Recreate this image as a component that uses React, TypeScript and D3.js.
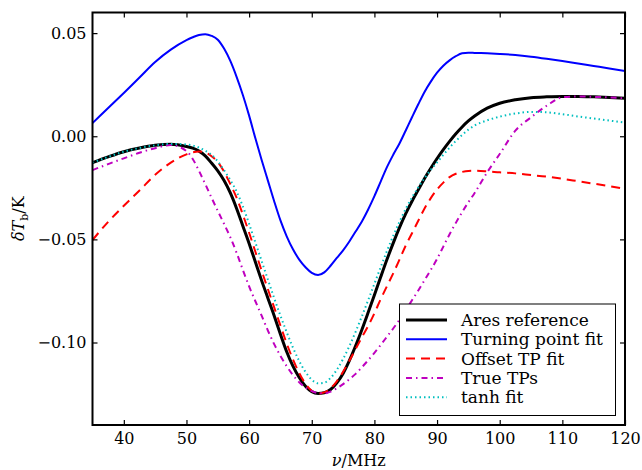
import React, { useEffect, useRef } from "react";
import * as d3 from "d3";

// frequency grid (MHz)
const freq = [
  35, 37.5, 40, 42.5, 45, 47.5, 50, 51, 52, 53, 54, 55, 56, 57, 58, 59, 60, 61,
  62, 63, 64, 65, 66, 67, 68, 69, 70, 71, 72, 73, 74, 75, 76, 77, 78, 79, 80,
  81, 82, 83, 84, 85, 86, 87, 88, 89, 90, 91, 92, 93, 94, 95, 96, 98, 100,
  102.5, 105, 107.5, 110, 112.5, 115, 117.5, 120,
];

const aresReference = [
  -0.0128, -0.01, -0.0075, -0.0057, -0.0044, -0.0039, -0.005, -0.0058, -0.0072,
  -0.0095, -0.013, -0.0168, -0.0215, -0.0275, -0.035, -0.0435, -0.052, -0.061,
  -0.07, -0.0785, -0.087, -0.096, -0.1045, -0.1115, -0.117, -0.1212, -0.1238,
  -0.1247, -0.1244, -0.1228, -0.1196, -0.115, -0.1088, -0.1016, -0.0938,
  -0.0855, -0.077, -0.0683, -0.0598, -0.0518, -0.0443, -0.0375, -0.0315,
  -0.026, -0.0205, -0.0155, -0.0108, -0.0065, -0.0025, 0.0012, 0.0045, 0.0074,
  0.0098, 0.0136, 0.016, 0.0177, 0.0187, 0.0191, 0.0193, 0.0193, 0.0191,
  0.0188, 0.0184,
];

const turningPointFit = [
  0.0064, 0.0137, 0.021, 0.0285, 0.036, 0.042, 0.0466, 0.048, 0.0491, 0.0495,
  0.0487, 0.0468, 0.0425, 0.0365, 0.0288, 0.02, 0.01, -0.001, -0.0115, -0.0215,
  -0.0315, -0.0408, -0.0485, -0.0548, -0.0598, -0.0635, -0.0662, -0.0673,
  -0.066, -0.0628, -0.059, -0.0553, -0.051, -0.0462, -0.0413, -0.0355, -0.029,
  -0.022, -0.015, -0.009, -0.0035, 0.0028, 0.0092, 0.0155, 0.0215, 0.0265,
  0.0308, 0.0342, 0.0368, 0.0388, 0.0402, 0.0405, 0.0404, 0.0402, 0.0399,
  0.0394, 0.0386, 0.0376, 0.0365, 0.0353, 0.0341, 0.0329, 0.0316,
];

const offsetTPFit = [
  -0.0503, -0.0415, -0.0337, -0.0263, -0.0187, -0.0128, -0.0088, -0.0078,
  -0.0074, -0.0079, -0.0097, -0.0125, -0.0172, -0.0232, -0.0298, -0.038,
  -0.0468, -0.056, -0.0652, -0.0742, -0.083, -0.0918, -0.1005, -0.1082,
  -0.1148, -0.12, -0.1234, -0.1247, -0.1242, -0.1222, -0.1188, -0.1142,
  -0.1088, -0.1032, -0.0975, -0.092, -0.0858, -0.079, -0.0727, -0.0665,
  -0.0598, -0.053, -0.047, -0.041, -0.035, -0.03, -0.0258, -0.0225, -0.0198,
  -0.0182, -0.0173, -0.0168, -0.0167, -0.017, -0.0175, -0.018, -0.0188,
  -0.0196, -0.0206, -0.0218, -0.023, -0.0242, -0.0255,
];

const trueTPs = [
  -0.0164, -0.0135, -0.0107, -0.008, -0.0058, -0.0042, -0.0072, -0.011,
  -0.0168, -0.0232, -0.0298, -0.0362, -0.0425, -0.049, -0.0565, -0.0648,
  -0.0728, -0.08, -0.087, -0.0942, -0.1008, -0.1065, -0.1115, -0.1158,
  -0.1193, -0.1218, -0.1236, -0.1245, -0.1247, -0.1238, -0.1222, -0.1202,
  -0.1178, -0.1152, -0.112, -0.1086, -0.105, -0.1012, -0.0972, -0.0932,
  -0.089, -0.0843, -0.0795, -0.0748, -0.0698, -0.0648, -0.0595, -0.0535,
  -0.0475, -0.042, -0.0368, -0.032, -0.0275, -0.0175, -0.0086, 0.0027, 0.0092,
  0.0148, 0.0189, 0.0193, 0.0191, 0.0188, 0.0184,
];

const tanhFit = [
  -0.0128, -0.01, -0.0075, -0.0057, -0.0044, -0.0037, -0.004, -0.0045, -0.0055,
  -0.007, -0.009, -0.0122, -0.0165, -0.0212, -0.0268, -0.034, -0.0425, -0.0515,
  -0.0605, -0.0695, -0.0785, -0.087, -0.095, -0.1025, -0.109, -0.1143, -0.118,
  -0.1198, -0.1195, -0.1172, -0.1132, -0.108, -0.1018, -0.0948, -0.0873,
  -0.0795, -0.0715, -0.0635, -0.0557, -0.0483, -0.0415, -0.0352, -0.0297,
  -0.0248, -0.0203, -0.0163, -0.0127, -0.009, -0.0055, -0.0023, 0.0006, 0.0032,
  0.0052, 0.0077, 0.0095, 0.011, 0.0118, 0.0116, 0.0107, 0.0096, 0.0086,
  0.0076, 0.0066,
];

const xTicks = [40, 50, 60, 70, 80, 90, 100, 110, 120];
const yTicks = [0.05, 0.0, -0.05, -0.1];

const series = [
  { name: "Ares reference", values: aresReference, color: "#000000", width: 3, dash: "" },
  { name: "Turning point fit", values: turningPointFit, color: "#0000ff", width: 2, dash: "" },
  { name: "Offset TP fit", values: offsetTPFit, color: "#ff0000", width: 2, dash: "9,6" },
  { name: "True TPs", values: trueTPs, color: "#bf00bf", width: 2, dash: "6,4,1.5,4" },
  { name: "tanh fit", values: tanhFit, color: "#00bfbf", width: 2, dash: "1.5,3" },
];

const FONT = "DejaVu Serif";

export default function App() {
  const ref = useRef<SVGSVGElement>(null);

  useEffect(() => {
    if (!ref.current) return;
    const svg = d3.select(ref.current);
    svg.selectAll("*").remove();

    const left = 92.5;
    const right = 625;
    const top = 12.5;
    const bottom = 425;

    const x = d3.scaleLinear().domain([35, 120]).range([left, right]);
    const y = d3.scaleLinear().domain([-0.14, 0.06]).range([bottom, top]);

    svg.append("rect").attr("width", 642).attr("height", 470).attr("fill", "#fff");

    svg
      .append("clipPath")
      .attr("id", "plot-clip")
      .append("rect")
      .attr("x", left)
      .attr("y", top)
      .attr("width", right - left)
      .attr("height", bottom - top);

    // curves
    const line = d3
      .line<number>()
      .x((_, i) => x(freq[i]))
      .y((d) => y(d))
      .curve(d3.curveMonotoneX);

    const plot = svg.append("g").attr("clip-path", "url(#plot-clip)");
    series.forEach((s) => {
      plot
        .append("path")
        .datum(s.values)
        .attr("d", line)
        .attr("fill", "none")
        .attr("stroke", s.color)
        .attr("stroke-width", s.width)
        .attr("stroke-dasharray", s.dash || null);
    });

    // axes (ticks pointing inwards, mirrored on top/right)
    const fmtY = (d: number) => (d < 0 ? "\u2212" : "") + Math.abs(d).toFixed(2);

    const styleAxis = (g: d3.Selection<SVGGElement, unknown, null, undefined>) => {
      g.select(".domain").remove();
      g.selectAll(".tick line").attr("stroke", "#000").attr("stroke-width", 1.2);
      g.selectAll(".tick text")
        .attr("fill", "#000")
        .style("font-family", FONT)
        .style("font-size", "16px");
    };

    svg
      .append("g")
      .attr("transform", `translate(0,${bottom})`)
      .call(d3.axisBottom(x).tickValues(xTicks).tickSize(-5).tickPadding(8).tickFormat(d3.format("d")))
      .call(styleAxis);

    svg
      .append("g")
      .attr("transform", `translate(0,${top})`)
      .call(d3.axisTop(x).tickValues(xTicks).tickSize(-5).tickFormat(() => ""))
      .call(styleAxis);

    svg
      .append("g")
      .attr("transform", `translate(${left},0)`)
      .call(d3.axisLeft(y).tickValues(yTicks).tickSize(-5).tickPadding(6).tickFormat((d) => fmtY(+d)))
      .call(styleAxis);

    svg
      .append("g")
      .attr("transform", `translate(${right},0)`)
      .call(d3.axisRight(y).tickValues(yTicks).tickSize(-5).tickFormat(() => ""))
      .call(styleAxis);

    // frame
    svg
      .append("rect")
      .attr("x", left)
      .attr("y", top)
      .attr("width", right - left)
      .attr("height", bottom - top)
      .attr("fill", "none")
      .attr("stroke", "#000")
      .attr("stroke-width", 2);

    // axis labels
    const xl = svg
      .append("text")
      .attr("x", (left + right) / 2)
      .attr("y", 466)
      .attr("text-anchor", "middle")
      .style("font-family", FONT)
      .style("font-size", "16px");
    xl.append("tspan").style("font-style", "italic").text("\u03bd");
    xl.append("tspan").text("/MHz");

    const yl = svg
      .append("text")
      .attr("transform", `translate(24,${(top + bottom) / 2}) rotate(-90)`)
      .attr("text-anchor", "middle")
      .style("font-family", FONT)
      .style("font-size", "16px");
    yl.append("tspan").style("font-style", "italic").text("\u03b4T");
    yl.append("tspan").attr("dy", 4).style("font-size", "11px").text("b");
    yl.append("tspan").attr("dy", -4).text("/K");

    // legend
    const legend = svg.append("g");
    legend
      .append("rect")
      .attr("x", 399.5)
      .attr("y", 304)
      .attr("width", 216)
      .attr("height", 111.5)
      .attr("fill", "#fff")
      .attr("stroke", "#000")
      .attr("stroke-width", 1);

    series.forEach((s, i) => {
      const ly = 320 + i * 19.3;
      legend
        .append("line")
        .attr("x1", 406)
        .attr("x2", 447)
        .attr("y1", ly)
        .attr("y2", ly)
        .attr("stroke", s.color)
        .attr("stroke-width", s.width)
        .attr("stroke-dasharray", s.dash || null);
      legend
        .append("text")
        .attr("x", 461)
        .attr("y", ly + 6)
        .style("font-family", FONT)
        .style("font-size", "17px")
        .text(s.name);
    });
  }, []);

  return (
    <svg
      ref={ref}
      width={642}
      height={470}
      style={{ position: "absolute", left: 0, top: 0 }}
    ></svg>
  );
}
